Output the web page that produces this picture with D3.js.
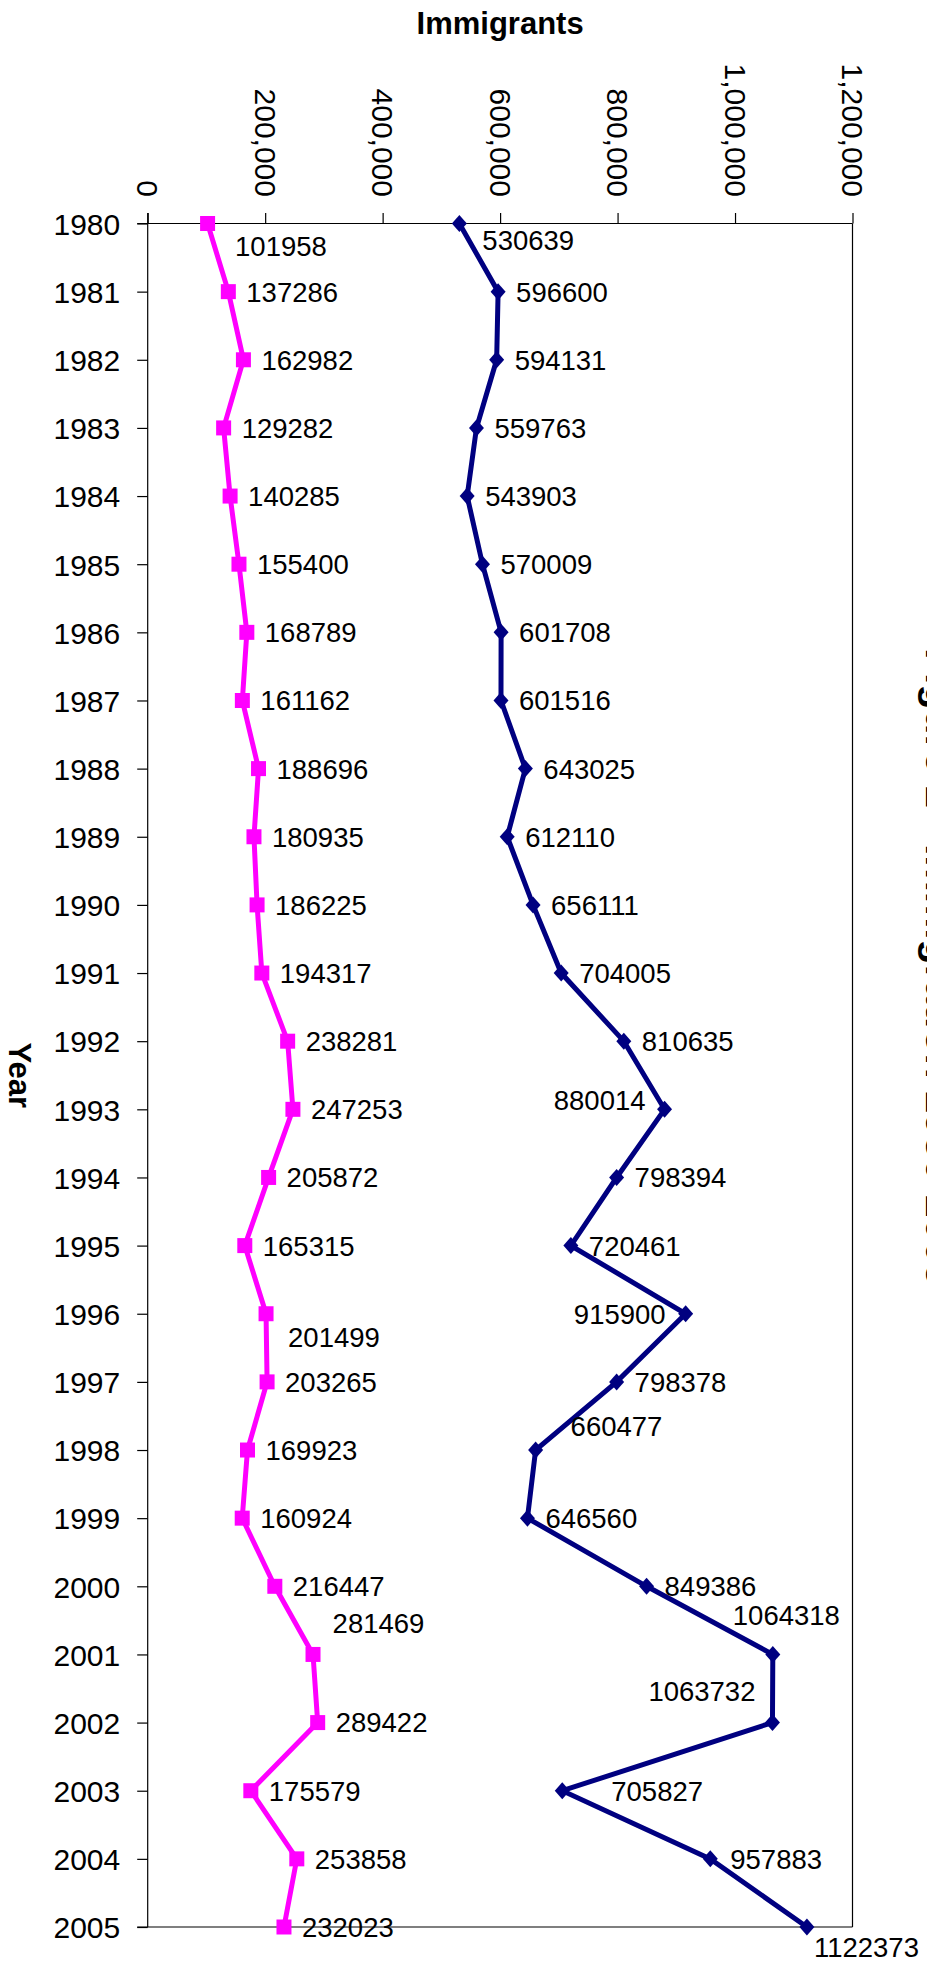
<!DOCTYPE html>
<html>
<head>
<meta charset="utf-8">
<script src="https://cdn.jsdelivr.net/npm/d3@7"></script>
<style>
  html, body { margin: 0; padding: 0; background: #fff; }
  svg { display: block; font-family: "Liberation Sans", Arial, sans-serif; }
</style>
</head>
<body>
<svg id="chart" width="927" height="1961"></svg>
<script>
// ---- data ----
const years = [1980,1981,1982,1983,1984,1985,1986,1987,1988,1989,1990,1991,1992,1993,1994,1995,1996,1997,1998,1999,2000,2001,2002,2003,2004,2005];
const navySeries = [530639,596600,594131,559763,543903,570009,601708,601516,643025,612110,656111,704005,810635,880014,798394,720461,915900,798378,660477,646560,849386,1064318,1063732,705827,957883,1122373];
const pinkSeries = [101958,137286,162982,129282,140285,155400,168789,161162,188696,180935,186225,194317,238281,247253,205872,165315,201499,203265,169923,160924,216447,281469,289422,175579,253858,232023];
const valueTicks = [0,200000,400000,600000,800000,1000000,1200000];
const valueTitle = "Immigrants";
const categoryTitle = "Year";
const chartTitle = "Figure 1 - Immigration 1980-2005";

// ---- layout ----
const plot = { left: 147.7, right: 852.5, top: 223.5, bottom: 1927 };
const svg = d3.select("#chart");

const x = d3.scaleLinear().domain([0, 1200000]).range([plot.left, plot.right]);
const y = d3.scalePoint().domain(years).range([plot.top, plot.bottom]);

// label placement adjustments (layout only)
const navyLabelPos = {
  1980: {dx: 23, dy: 17},
  1993: {dx: -19, dy: -9, anchor: "end"},
  1996: {dx: -20, dy: 0, anchor: "end"},
  1998: {dx: 35, dy: -24},
  2001: {dx: -40, dy: -39},
  2002: {dx: -17, dy: -31, anchor: "end"},
  2003: {dx: 49, dy: 0},
  2004: {dx: 20, dy: 0},
  2005: {dx: 7, dy: 20}
};
const pinkLabelPos = {
  1980: {dx: 27.5, dy: 23},
  1996: {dx: 22, dy: 23},
  2001: {dx: 19.6, dy: -31}
};

// ---- plot frame ----
const frame = svg.append("g").attr("stroke", "#000").attr("stroke-width", 1.2).attr("fill", "none");
// right border
frame.append("line").attr("x1", plot.right).attr("x2", plot.right).attr("y1", plot.top).attr("y2", plot.bottom);
// bottom border
frame.append("line").attr("x1", plot.left - 10.5).attr("x2", plot.right).attr("y1", plot.bottom).attr("y2", plot.bottom);

// value axis (top)
const xAxis = d3.axisTop(x).tickValues(valueTicks).tickSize(10.5).tickFormat(d3.format(",")).tickSizeOuter(0);
const gx = svg.append("g").attr("transform", `translate(0,${plot.top})`).call(xAxis);
gx.select(".domain").remove();
gx.selectAll(".tick line").attr("stroke", "#000").attr("stroke-width", 1.2);
gx.append("line").attr("x1", plot.left - 10.5).attr("x2", plot.right).attr("y1", 0).attr("y2", 0)
  .attr("stroke", "#000").attr("stroke-width", 1.2);
gx.selectAll(".tick text")
  .attr("font-size", 30).attr("fill", "#000")
  .attr("font-family", "'Liberation Sans', Arial, sans-serif")
  .attr("text-anchor", "end")
  .attr("transform", "translate(0,-26.5) rotate(90)")
  .attr("x", 0).attr("y", 0).attr("dy", "0.36em");

// category axis (left)
const yAxis = d3.axisLeft(y).tickSize(10.5).tickSizeOuter(0).tickPadding(17);
const gy = svg.append("g").attr("transform", `translate(${plot.left},0)`).call(yAxis);
gy.select(".domain").remove();
gy.selectAll(".tick line").attr("stroke", "#000").attr("stroke-width", 1.2);
gy.append("line").attr("x1", 0).attr("x2", 0).attr("y1", plot.top - 10.5).attr("y2", plot.bottom)
  .attr("stroke", "#000").attr("stroke-width", 1.2);
gy.selectAll(".tick text")
  .attr("font-size", 30).attr("fill", "#000")
  .attr("font-family", "'Liberation Sans', Arial, sans-serif")
  .attr("dy", "0.36em");

// axis titles
svg.append("text").attr("x", (plot.left + plot.right) / 2).attr("y", 33.5)
  .attr("text-anchor", "middle").attr("font-size", 31).attr("font-weight", "bold").text(valueTitle);
svg.append("text").attr("transform", `translate(9,${(plot.top + plot.bottom) / 2}) rotate(90)`)
  .attr("text-anchor", "middle").attr("font-size", 31).attr("font-weight", "bold").text(categoryTitle);

// chart title (mostly outside the frame on the right)
svg.append("text").attr("transform", `translate(925.5,648) rotate(90)`)
  .attr("text-anchor", "start").attr("font-size", 41).attr("font-weight", "bold").text(chartTitle);

// ---- series ----
function drawSeries(values, color, markerPath, labelPos) {
  const data = years.map((yr, i) => ({ yr, v: values[i] }));
  const line = d3.line().x(d => x(d.v)).y(d => y(d.yr));
  svg.append("path").datum(data).attr("d", line)
    .attr("fill", "none").attr("stroke", color).attr("stroke-width", 5).attr("stroke-linejoin", "miter");
  svg.append("g").selectAll("path").data(data).join("path")
    .attr("transform", d => `translate(${x(d.v)},${y(d.yr)})`)
    .attr("d", markerPath).attr("fill", color);
  svg.append("g").selectAll("text").data(data).join("text")
    .attr("x", d => x(d.v) + (labelPos[d.yr] ? labelPos[d.yr].dx : 18))
    .attr("y", d => y(d.yr) + (labelPos[d.yr] ? labelPos[d.yr].dy : 0))
    .attr("dy", "0.36em")
    .attr("text-anchor", d => (labelPos[d.yr] && labelPos[d.yr].anchor) || "start")
    .attr("font-size", 27.5).attr("fill", "#000")
    .text(d => d.v);
}

const squarePath = "M-7.5,-7.5H7.5V7.5H-7.5Z";
const diamondPath = "M0,-8.5L7.5,0L0,8.5L-7.5,0Z";

drawSeries(pinkSeries, "#FF00FF", squarePath, pinkLabelPos);
drawSeries(navySeries, "#000080", diamondPath, navyLabelPos);
</script>
</body>
</html>
